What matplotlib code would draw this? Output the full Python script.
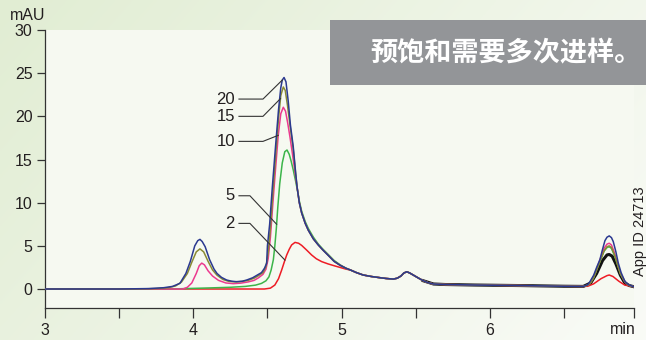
import numpy as np
import matplotlib
matplotlib.use('Agg')
import matplotlib.pyplot as plt
from matplotlib.patches import Rectangle
from matplotlib.colors import to_rgb

plt.rcParams['font.family'] = ['Liberation Sans', 'DejaVu Sans']

# shared baseline after the main peak (min, mAU)
tail_t = [5.06, 5.10, 5.146, 5.20, 5.259, 5.30, 5.349, 5.375, 5.40, 5.42, 5.44,
          5.46, 5.483, 5.52, 5.551, 5.585, 5.62, 5.70, 5.90, 6.20, 6.50, 6.63]
tail_v = [2.2, 1.9, 1.62, 1.45, 1.31, 1.22, 1.15, 1.25, 1.5, 1.85, 2.0,
          1.85, 1.62, 1.25, 0.96, 0.72, 0.58, 0.52, 0.46, 0.40, 0.32, 0.30]

# injection 20
inj20_t = [3.0, 3.5, 3.7, 3.8, 3.86, 3.91, 3.95, 3.98, 4.01, 4.03, 4.045, 4.06,
           4.08, 4.11, 4.14, 4.16, 4.19, 4.225, 4.26, 4.29, 4.33, 4.36, 4.40,
           4.43, 4.46, 4.48, 4.495, 4.50, 4.515, 4.533, 4.555, 4.575, 4.59,
           4.60, 4.612, 4.625, 4.64, 4.655, 4.674, 4.69, 4.70, 4.715, 4.731,
           4.755, 4.776, 4.81, 4.843, 4.875, 4.91, 4.95, 4.99, 5.03]
inj20_v = [0.0, 0.0, 0.05, 0.15, 0.3, 0.66, 1.8, 3.2, 5.0, 5.6, 5.75, 5.5,
           4.9, 3.4, 2.3, 1.8, 1.35, 1.04, 0.9, 0.85, 0.9, 1.04, 1.3,
           1.6, 1.9, 2.4, 3.0, 5.0, 7.5, 11.8, 16.6, 20.8, 23.3,
           24.2, 24.5, 24.0, 21.8, 19.0, 16.5, 13.5, 11.8, 10.0, 8.8,
           7.6, 6.8, 5.8, 5.1, 4.5, 3.9, 3.2, 2.75, 2.4]
inj20_end_t = [6.66, 6.675, 6.70, 6.72, 6.742, 6.76, 6.776, 6.79, 6.805, 6.82,
               6.832, 6.85, 6.866, 6.885, 6.91, 6.935, 6.97]
inj20_end_v = [0.5, 0.85, 1.6, 2.5, 3.4, 4.6, 5.6, 6.0, 6.15, 5.95,
               5.5, 4.3, 3.0, 1.9, 0.9, 0.5, 0.27]

# injection 15
inj15_t = [3.0, 3.6, 3.75, 3.83, 3.88, 3.92, 3.96, 3.99, 4.02, 4.045, 4.07,
           4.10, 4.13, 4.16, 4.20, 4.24, 4.29, 4.33, 4.37, 4.41, 4.44, 4.47,
           4.49, 4.505, 4.52, 4.537, 4.557, 4.575, 4.59, 4.607, 4.62, 4.635,
           4.655, 4.674, 4.69, 4.70, 4.715, 4.731, 4.755, 4.776, 4.81, 4.843,
           4.875, 4.91, 4.95, 4.99, 5.03]
inj15_v = [0.0, 0.0, 0.05, 0.15, 0.35, 0.8, 1.8, 3.1, 4.3, 4.65, 4.3,
           3.2, 2.2, 1.6, 1.1, 0.88, 0.82, 0.88, 1.0, 1.25, 1.55, 1.9,
           2.6, 4.2, 7.0, 11.2, 15.8, 19.8, 22.4, 23.4, 23.0, 21.3,
           18.6, 16.2, 13.4, 11.8, 10.0, 8.8, 7.6, 6.8, 5.8, 5.1,
           4.5, 3.9, 3.2, 2.75, 2.4]
inj15_end_t = [6.66, 6.68, 6.70, 6.72, 6.745, 6.77, 6.79, 6.805, 6.82, 6.84,
               6.86, 6.88, 6.91, 6.935, 6.97]
inj15_end_v = [0.45, 0.75, 1.3, 2.2, 3.3, 4.4, 4.9, 5.0, 4.8, 4.0,
               2.9, 1.8, 0.85, 0.45, 0.27]

# injection 10
inj10_t = [3.0, 3.93, 3.96, 3.99, 4.02, 4.04, 4.057, 4.075, 4.10, 4.13, 4.17,
           4.22, 4.27, 4.32, 4.37, 4.41, 4.44, 4.47, 4.49, 4.505, 4.52, 4.537,
           4.556, 4.573, 4.59, 4.607, 4.622, 4.637, 4.652, 4.67, 4.69, 4.70,
           4.715, 4.731, 4.755, 4.776, 4.81, 4.843, 4.875, 4.91, 4.95, 4.99,
           5.03]
inj10_v = [0.0, 0.0, 0.2, 0.7, 1.8, 2.7, 3.0, 2.8, 2.1, 1.5, 1.0,
           0.7, 0.62, 0.68, 0.82, 1.0, 1.3, 1.7, 2.3, 3.5, 6.0, 10.0,
           14.2, 17.8, 20.3, 21.05, 20.6, 19.2, 17.6, 15.5, 13.0, 11.8,
           10.0, 8.8, 7.6, 6.8, 5.8, 5.1, 4.5, 3.9, 3.2, 2.75,
           2.4]
inj10_end_t = [6.66, 6.68, 6.70, 6.72, 6.745, 6.77, 6.79, 6.805, 6.82, 6.84,
               6.86, 6.88, 6.91, 6.935, 6.97]
inj10_end_v = [0.45, 0.8, 1.4, 2.3, 3.5, 4.7, 5.2, 5.3, 5.1, 4.2,
               3.0, 1.85, 0.85, 0.45, 0.27]

# injection 5
inj5_t = [3.0, 3.85, 3.95, 4.10, 4.25, 4.35, 4.42, 4.46, 4.49, 4.51, 4.525,
          4.54, 4.55, 4.56, 4.57, 4.583, 4.60, 4.617, 4.632, 4.647, 4.66,
          4.674, 4.69, 4.705, 4.715, 4.731, 4.755, 4.776, 4.81, 4.843, 4.875,
          4.91, 4.95, 4.99, 5.03]
inj5_v = [0.0, 0.0, 0.05, 0.12, 0.2, 0.3, 0.45, 0.65, 0.95, 1.4, 2.2,
          3.4, 5.0, 7.0, 9.5, 12.2, 14.6, 15.9, 16.1, 15.6, 14.8,
          13.8, 12.5, 11.2, 10.2, 9.0, 7.8, 7.0, 6.0, 5.2, 4.6,
          4.0, 3.3, 2.8, 2.4]
inj5_end_t = inj15_end_t
inj5_end_v = [0.45, 0.75, 1.3, 2.2, 3.3, 4.4, 4.8, 4.9, 4.7, 3.9,
              2.85, 1.75, 0.85, 0.45, 0.27]

# injection 2
inj2_t = [3.0, 4.48, 4.52, 4.55, 4.575, 4.596, 4.615, 4.63, 4.647, 4.663,
          4.686, 4.71, 4.731, 4.765, 4.798, 4.83, 4.866, 4.91, 4.955, 5.0,
          5.03]
inj2_v = [0.0, 0.0, 0.1, 0.46, 1.2, 2.2, 3.2, 3.94, 4.6, 5.1,
          5.4, 5.3, 5.05, 4.5, 3.94, 3.5, 3.17, 2.9, 2.67, 2.45,
          2.3]
inj2_end_t = [6.66, 6.70, 6.75, 6.79, 6.805, 6.83, 6.87, 6.91, 6.97]
inj2_end_v = [0.32, 0.6, 1.2, 1.55, 1.62, 1.45, 0.9, 0.45, 0.27]

# extra trace shown from the late baseline on
extra_t = [5.55, 5.62, 5.70, 5.90, 6.20, 6.50, 6.63, 6.68, 6.72, 6.76, 6.79,
           6.805, 6.825, 6.85, 6.88, 6.91, 6.94, 6.97]
extra_v = [0.96, 0.58, 0.52, 0.46, 0.40, 0.32, 0.30, 0.7, 1.8, 3.3, 3.95,
           4.0, 3.8, 2.9, 1.6, 0.7, 0.4, 0.27]

labels = ['2', '5', '10', '15', '20']
colors = ['#ee1c25', '#3cb54a', '#ec3a8f', '#8a8a34', '#2b3990']
# label position (min, mAU), elbow x, time where the leader meets the curve
label_pos = [(4.281, 7.6), (4.281, 10.8), (4.281, 17.1), (4.281, 20.0), (4.281, 22.0)]
elbow_t = [4.382, 4.382, 4.47, 4.47, 4.47]
hit_t = [4.618, 4.562, 4.573, 4.588, 4.60]


def full(t, v, end_t, end_v):
    return (np.array(t + tail_t + end_t), np.array(v + tail_v + end_v))


traces = [full(inj2_t, inj2_v, inj2_end_t, inj2_end_v),
          full(inj5_t, inj5_v, inj5_end_t, inj5_end_v),
          full(inj10_t, inj10_v, inj10_end_t, inj10_end_v),
          full(inj15_t, inj15_v, inj15_end_t, inj15_end_v),
          full(inj20_t, inj20_v, inj20_end_t, inj20_end_v)]

fig = plt.figure(figsize=(6.46, 3.4), dpi=100)

# soft green wash behind everything
bg = fig.add_axes([0, 0, 1, 1], zorder=-10)
yy, xx = np.mgrid[0:1:200j, 0:1:400j]
mix = np.clip(0.65 * xx + 0.3 * yy, 0, 1)[..., None]
c0 = np.array(to_rgb('#e1edd3'))
c1 = np.array(to_rgb('#fbfcf9'))
bg.imshow(c0 * (1 - mix) + c1 * mix, aspect='auto', extent=[0, 1, 0, 1])
bg.axis('off')

ax = fig.add_axes([45 / 646, 1 - 308 / 340, 589 / 646, 278 / 340])
ax.set_facecolor('#f6f9f1')
ax.set_xlim(3, 6.972)
ax.set_ylim(-2.2, 30)

ax.plot(extra_t, extra_v, color='#111111', lw=2.2, zorder=2)
for (t, v), c in zip(traces, colors):
    ax.plot(t, v, color=c, lw=1.1, zorder=3)

for lab, (lx, ly), ex, ht, (t, v) in zip(labels, label_pos, elbow_t, hit_t, traces):
    hy = np.interp(ht, t, v)
    ax.plot([lx + 0.027, ex, ht], [ly, ly, hy], color='#333333', lw=0.8, zorder=4)
    ax.text(lx, ly, lab, ha='right', va='center', fontsize=12, color='#231f20')

for s in ['top', 'right']:
    ax.spines[s].set_visible(False)
for s in ['left', 'bottom']:
    ax.spines[s].set_color('#333333')
    ax.spines[s].set_linewidth(0.9)

ax.set_yticks(np.arange(0, 31, 5))
ax.set_xticks([3, 4, 5, 6])
ax.set_xticks([3.5, 4.5, 5.5, 6.5, 6.972], minor=True)
ax.tick_params(axis='both', which='both', direction='out', width=0.9,
               color='#333333', labelsize=11.5, labelcolor='#231f20')
ax.tick_params(axis='x', which='both', length=7, pad=3.5)
ax.tick_params(axis='y', which='both', length=6, pad=3)

fig.text(10 / 646, 1 - 15 / 340, 'mAU', ha='left', va='center', fontsize=11.5, color='#231f20')
fig.text(636 / 646, 1 - 330 / 340, 'min', ha='right', va='center', fontsize=11.5, color='#231f20')
fig.text(640 / 646, 1 - 231 / 340, 'App ID 24713', rotation=90, ha='center', va='center',
         fontsize=10.5, color='#231f20')

# grey banner, top right
fig.patches.append(Rectangle((330 / 646, 1 - 85 / 340), 316 / 646, 65 / 340,
                             transform=fig.transFigure, facecolor='#939598',
                             edgecolor='none', zorder=5))
fig.text(506 / 646, 1 - 53 / 340, '预饱和需要多次进样。', ha='center', va='center',
         fontsize=19.5, fontweight='bold', color='white', zorder=6,
         family=['Noto Sans CJK SC', 'DejaVu Sans'])

fig.savefig('out.png', dpi=100)
